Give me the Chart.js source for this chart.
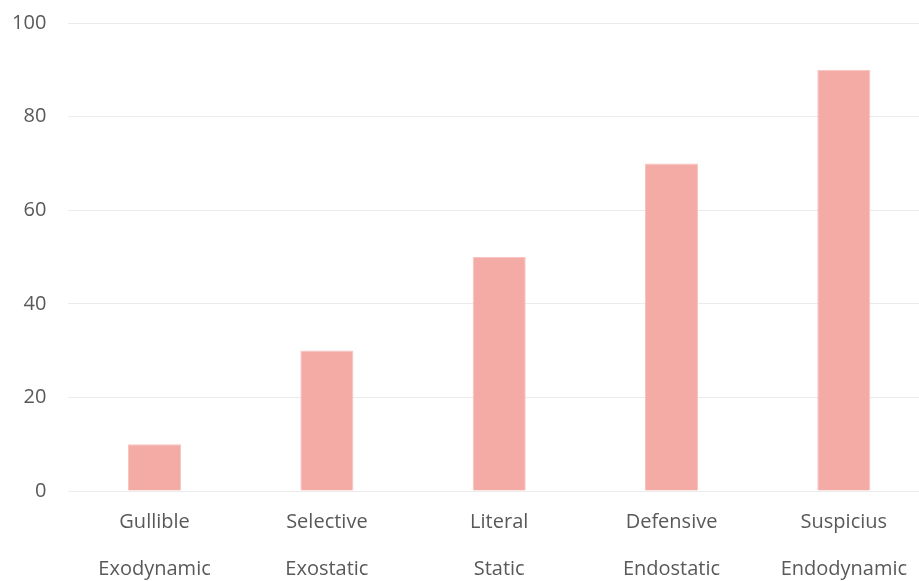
<!DOCTYPE html>
<html>
<head>
<meta charset="utf-8">
<script src="https://cdn.jsdelivr.net/npm/chart.js@4/dist/chart.umd.min.js"></script>
<style>
  html, body { margin: 0; padding: 0; background: #fff; overflow: hidden; }
  #wrap { position: relative; width: 930px; height: 581px; }
</style>
</head>
<body>
<div id="wrap"><canvas id="chart"></canvas></div>
<script>
// Two-line category labels: trait / dynamic type
const traits = ["Gullible", "Selective", "Literal", "Defensive", "Suspicius"];
const dynamics = ["Exodynamic", "Exostatic", "Static", "Endostatic", "Endodynamic"];
const values = [10, 30, 50, 70, 90];
const yTicks = [0, 20, 40, 60, 80, 100];

const labels = traits.map((t, i) => [t, dynamics[i]]);
const textColor = "#595959";
const fontFamily = "'Open Sans', 'Noto Sans', sans-serif";

new Chart(document.getElementById("chart"), {
  type: "bar",
  data: {
    labels: labels,
    datasets: [{
      data: values,
      backgroundColor: "#F4AAA5",
      borderColor: "#F7C4C0",
      borderWidth: 1,
      categoryPercentage: 1,
      barPercentage: 0.308
    }]
  },
  options: {
    responsive: true,
    maintainAspectRatio: false,
    animation: false,
    layout: { padding: { top: 23, right: 0, left: 0, bottom: 0 } },
    plugins: {
      legend: { display: false },
      tooltip: { enabled: false }
    },
    scales: {
      x: {
        grid: { display: false, drawTicks: false },
        border: { display: false },
        ticks: {
          color: textColor,
          padding: 8,
          font: { family: fontFamily, size: 20, lineHeight: 2.35 }
        },
        afterFit(scale) { scale.height = 90; }
      },
      y: {
        min: 0,
        max: 100,
        afterBuildTicks(scale) { scale.ticks = yTicks.map(v => ({ value: v })); },
        grid: { color: "#EBEBEB", lineWidth: 1, drawTicks: false },
        border: { display: false },
        ticks: {
          color: textColor,
          padding: 22,
          font: { family: fontFamily, size: 20 }
        },
        afterFit(scale) {
          scale.width = 68.4;
          scale.paddingTop = 0;
          scale.paddingBottom = 0;
        }
      }
    }
  }
});
</script>
</body>
</html>
